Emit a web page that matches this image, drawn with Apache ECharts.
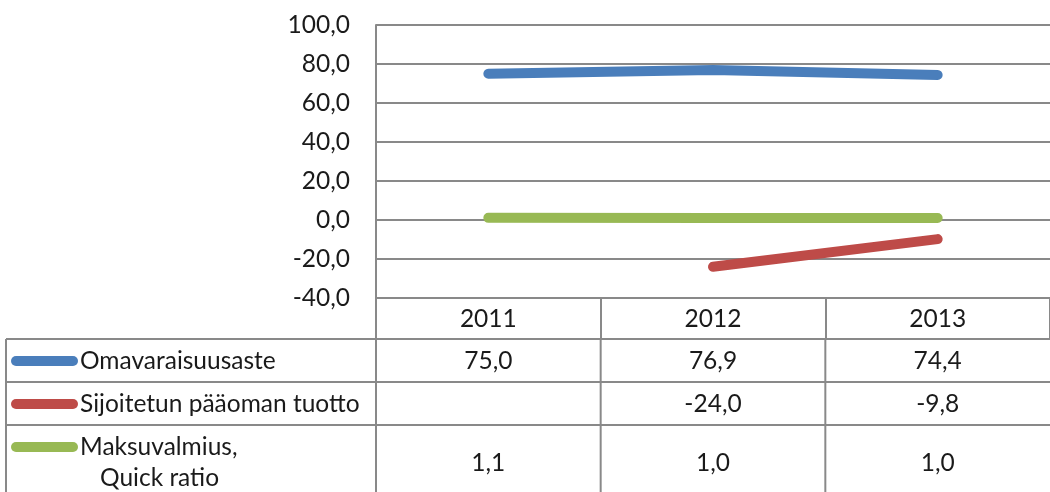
<!DOCTYPE html>
<html>
<head>
<meta charset="utf-8">
<script src="https://cdn.jsdelivr.net/npm/echarts@6/dist/echarts.min.js"></script>
<style>
  html, body { margin: 0; padding: 0; background: #fff; }
  #chart { width: 1050px; height: 492px; }
</style>
</head>
<body>
<div id="chart"></div>
<script>
const years = ['2011', '2012', '2013']
const omavaraisuusaste = [75.0, 76.9, 74.4]
const sijoitetunTuotto = [null, -24.0, -9.8]
const quickRatio = [1.1, 1.0, 1.0]
const rowNames = ['Omavaraisuusaste', 'Sijoitetun pääoman tuotto', 'Maksuvalmius,\n Quick ratio']
const colors = ['#4a7ebb', '#be4b48', '#98b954']

const FONT = 'Lato, "Open Sans", sans-serif'
const GRAY = '#898989'
const TXT = '#1a1a1a'
const FS = 24.5
const fmt = v => (v === null || v === undefined) ? '' : v.toFixed(1).replace('.', ',')

const chart = echarts.init(document.getElementById('chart'))

const seriesData = [omavaraisuusaste, sijoitetunTuotto, quickRatio]

const option = {
  animation: false,
  grid: { left: 376, top: 25, right: -7, bottom: 194 },
  xAxis: {
    type: 'category',
    data: years,
    boundaryGap: true,
    axisLine: { show: false, onZero: false },
    axisTick: { show: true, length: 41, lineStyle: { color: GRAY, width: 2 } },
    axisLabel: { margin: 9, fontSize: FS, color: TXT, fontFamily: FONT },
    splitLine: { show: false }
  },
  yAxis: {
    type: 'value',
    min: -40,
    max: 100,
    interval: 20,
    axisLine: { show: true, lineStyle: { color: GRAY, width: 2 } },
    axisTick: { show: false },
    axisLabel: { margin: 26, fontSize: FS, color: TXT, fontFamily: FONT, formatter: fmt },
    splitLine: { lineStyle: { color: GRAY, width: 2 } }
  },
  series: seriesData.map((d, i) => ({
    type: 'line',
    name: rowNames[i],
    data: d,
    symbol: 'none',
    z: 3 + (2 - i),
    lineStyle: { color: colors[i], width: 10, cap: 'round', join: 'round' }
  }))
}

chart.setOption(option)

// data table below the plot
const rowTops = [339, 382, 425]
const rowCenters = [361, 404, 463]
const elems = []
const line = (x1, y1, x2, y2) => ({
  type: 'line',
  shape: { x1, y1, x2, y2 },
  style: { stroke: GRAY, lineWidth: 2 },
  silent: true
})

rowTops.forEach(y => elems.push(line(6, y, 1050, y)))
elems.push(line(6, 339, 6, 492))
const bounds = [0, 1, 2].map(i => chart.convertToPixel({ xAxisIndex: 0 }, i))
const half = (bounds[1] - bounds[0]) / 2
bounds.forEach(x => elems.push(line(x - half, 339, x - half, 492)))

rowNames.forEach((name, i) => {
  const yKey = i === 2 ? 447 : rowCenters[i]
  elems.push({
    type: 'line',
    shape: { x1: 16, y1: yKey, x2: 73, y2: yKey },
    style: { stroke: colors[i], lineWidth: 10, lineCap: 'round' },
    silent: true
  })
  const parts = name.split('\n')
  parts.forEach((t, k) => {
    elems.push({
      type: 'text',
      x: 80 + (k > 0 ? 20 : 0),
      y: yKey + k * 31,
      style: { text: t.trim(), font: FS + 'px ' + FONT, fill: TXT, verticalAlign: 'middle' },
      silent: true
    })
  })
  seriesData[i].forEach((v, j) => {
    elems.push({
      type: 'text',
      x: bounds[j],
      y: rowCenters[i],
      style: { text: fmt(v), font: FS + 'px ' + FONT, fill: TXT, align: 'center', verticalAlign: 'middle' },
      silent: true
    })
  })
})

chart.setOption({ graphic: { elements: elems } })
</script>
</body>
</html>
